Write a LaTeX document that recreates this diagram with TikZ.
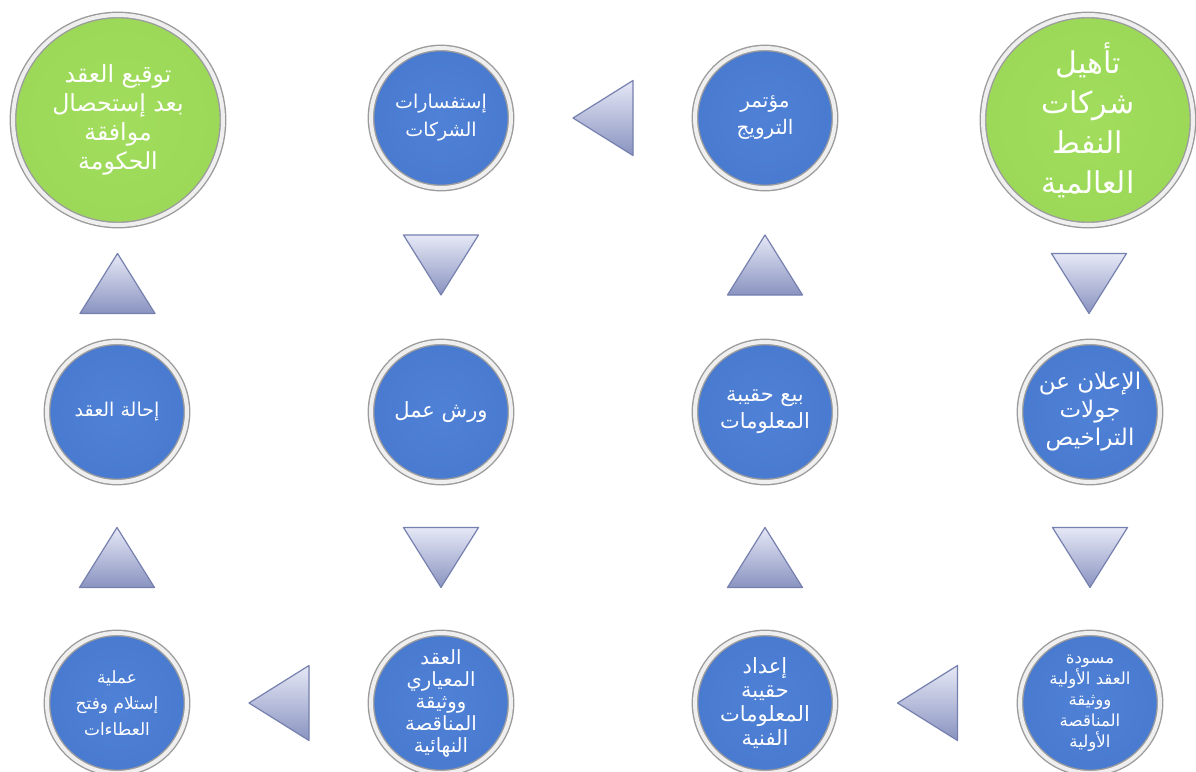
\documentclass[tikz,border=0pt]{standalone}
\usepackage{fontspec}
\newfontfamily\arabicfont[Script=Arabic]{DejaVu Sans}
\TeXXeTstate=1
\usetikzlibrary{calc}
\definecolor{bA}{HTML}{4F81D6}
\definecolor{bB}{HTML}{4677CC}
\definecolor{bC}{HTML}{3B68BB}
\definecolor{bD}{HTML}{345EAE}
\definecolor{gA}{HTML}{A2DD5E}
\definecolor{gB}{HTML}{99D755}
\definecolor{gC}{HTML}{8BC947}
\definecolor{gD}{HTML}{7EB93D}
\definecolor{triTop}{HTML}{E6E8F6}
\definecolor{triBot}{HTML}{8993C0}
\definecolor{triEdge}{HTML}{7580AE}
\definecolor{rimOut}{HTML}{9C9C9C}
\definecolor{rimIn}{HTML}{EFEFEF}
\pgfdeclareradialshading{blueball}{\pgfpoint{0bp}{0bp}}{color(0bp)=(bA); color(36bp)=(bB); color(45bp)=(bC); color(50bp)=(bD)}
\pgfdeclareradialshading{greenball}{\pgfpoint{0bp}{0bp}}{color(0bp)=(gA); color(36bp)=(gB); color(45bp)=(gC); color(50bp)=(gD)}
\newcommand\arl[1]{\beginR #1\endR}
\tikzset{
  ball/.style={circle, inner sep=0pt, align=center, text=white,
    draw=rimOut, line width=0.7pt, double=rimIn, double distance=2pt},
  blueb/.style={ball, shading=blueball, minimum size=70pt},
  greenb/.style={ball, shading=greenball, minimum size=105pt},
  tri/.style={top color=triTop, bottom color=triBot, draw=triEdge, line width=0.6pt, line join=round},
  tridown/.pic={\shade[tri] (-37.5,-30) -- (37.5,-30) -- (0,30) -- cycle;},
  triup/.pic={\shade[tri] (-37.5,30) -- (37.5,30) -- (0,-30) -- cycle;},
  trileft/.pic={\shade[tri] (30,-37.5) -- (30,37.5) -- (-30,0) -- cycle;}
}
\begin{document}
\begin{tikzpicture}[x=0.5pt,y=-0.5pt]
\useasboundingbox (0,0) rectangle (1196,772);
\fill[white] (0,0) rectangle (1196,772);
% top row
\node[greenb, font=\arabicfont\fontsize{15}{20}\selectfont] (g1) at (1088,120)
  {\arl{تأهيل}\\\arl{شركات}\\\arl{النفط}\\\arl{العالمية}};
\node[blueb, font=\arabicfont\fontsize{10}{13.5}\selectfont] (b1) at (765,118)
  {\arl{مؤتمر}\\\arl{الترويج}};
\node[blueb, font=\arabicfont\fontsize{9.5}{14}\selectfont] (b2) at (441,118)
  {\arl{إستفسارات}\\\arl{الشركات}};
\node[greenb, font=\arabicfont\fontsize{11.8}{14.5}\selectfont] (g2) at (118,120)
  {\arl{توقيع العقد}\\\arl{بعد إستحصال}\\\arl{موافقة}\\\arl{الحكومة}};
% middle row
\node[blueb, font=\arabicfont\fontsize{11.5}{14}\selectfont] (m1) at (1090,412)
  {\arl{الإعلان عن}\\\arl{جولات}\\\arl{التراخيص}};
\node[blueb, font=\arabicfont\fontsize{10.5}{13.5}\selectfont] (m2) at (765,412)
  {\arl{بيع حقيبة}\\\arl{المعلومات}};
\node[blueb, font=\arabicfont\fontsize{10.5}{14}\selectfont] (m3) at (441,412)
  {\arl{ورش عمل}};
\node[blueb, font=\arabicfont\fontsize{9.5}{12}\selectfont] (m4) at (117,412)
  {\arl{إحالة العقد}};
% bottom row
\node[blueb, font=\arabicfont\fontsize{8.3}{10.5}\selectfont] (d1) at (1090,703)
  {\arl{مسودة}\\\arl{العقد الأولية}\\\arl{ووثيقة}\\\arl{المناقصة}\\\arl{الأولية}};
\node[blueb, font=\arabicfont\fontsize{10.5}{12}\selectfont] (d2) at (765,703)
  {\arl{إعداد}\\\arl{حقيبة}\\\arl{المعلومات}\\\arl{الفنية}};
\node[blueb, font=\arabicfont\fontsize{9.8}{11}\selectfont] (d3) at (441,703)
  {\arl{العقد}\\\arl{المعياري}\\\arl{ووثيقة}\\\arl{المناقصة}\\\arl{النهائية}};
\node[blueb, font=\arabicfont\fontsize{8.5}{13}\selectfont] (d4) at (117,703)
  {\arl{عملية}\\\arl{إستلام وفتح}\\\arl{العطاءات}};
% connectors (triangles)
\pic at ($(g1.south)!0.5!(m1.north)$) {tridown};
\pic at ($(m1.south)!0.5!(d1.north)$) {tridown};
\pic at ($(d1.west)!0.5!(d2.east)$) {trileft};
\pic at ($(d2.north)!0.5!(m2.south)$) {triup};
\pic at ($(m2.north)!0.5!(b1.south)$) {triup};
\pic at ($(b1.west)!0.5!(b2.east)$) {trileft};
\pic at ($(b2.south)!0.5!(m3.north)$) {tridown};
\pic at ($(m3.south)!0.5!(d3.north)$) {tridown};
\pic at ($(d3.west)!0.5!(d4.east)$) {trileft};
\pic at ($(d4.north)!0.5!(m4.south)$) {triup};
\pic at ($(m4.north)!0.5!(g2.south)$) {triup};
\end{tikzpicture}
\end{document}
